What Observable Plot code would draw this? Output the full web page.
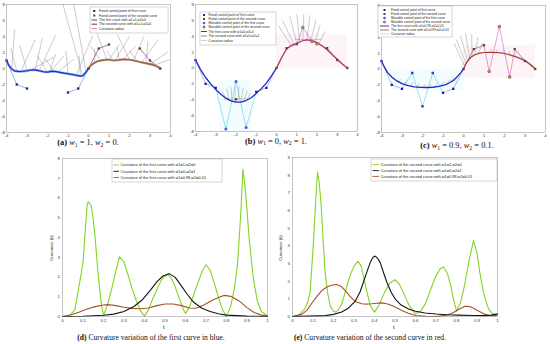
<!DOCTYPE html>
<html><head><meta charset="utf-8">
<script src="https://cdn.jsdelivr.net/npm/d3@7"></script>
<script src="https://cdn.jsdelivr.net/npm/@observablehq/plot@0.6"></script>
<style>
html,body{margin:0;padding:0;background:#fff;}
#wrap{position:relative;width:550px;height:344px;overflow:hidden;background:#fff;}
#wrap svg{position:absolute;left:0;top:0;}
</style></head><body><div id="wrap"></div>
<script>
// ---------- tick labels ----------
const xTicksTop = [-4,-3,-2,-1,0,1,2,3,4];
const yTicksTop = [-8,-6,-4,-2,0,2,4,6,8];
const tTicks = [0,0.1,0.2,0.3,0.4,0.5,0.6,0.7,0.8,0.9,1];
const kTicksD = [0,1,2,3,4,5,6,7,8];
const kTicksE = [0,1,2,3,4,5,6,7,8,9];

// ---------- control points ----------
const fixedFirst = [[-4,1],[-3.5,-2],[-3,-2.5],[-1,-3],[-0.5,-2.5]];
const fixedSecond = [[0,0],[0.5,2.5],[1,3],[2.5,2.5],[3,1],[3.5,0]];
const movFirstB = [[-2.5,-7.7],[-2,-1.7],[-1.5,-7.5]];
const movSecondB = [[1.3,5.1],[1.75,3.35],[2.0,3.05]];
const extraB = [[-2,-3.95]];
const movFirstC = [[-2.5,-0.5],[-2,-4.7],[-1.5,-0.5]];
const movSecondC = [[1.25,-0.3],[1.75,5.35],[2.25,-1.0]];

// ---------- curves ----------
const curveA1 = [[-4,1],[-3.88,0.35],[-3.75,-0.05],[-3.6,-0.3],[-3.4,-0.38],[-3.2,-0.35],[-3.0,-0.28],[-2.8,-0.18],[-2.6,-0.17],[-2.4,-0.28],[-2.2,-0.4],[-2.0,-0.45],[-1.8,-0.35],[-1.6,-0.38],[-1.4,-0.48],[-1.2,-0.58],[-1.0,-0.66],[-0.8,-0.75],[-0.6,-0.85],[-0.4,-0.95],[-0.28,-0.9],[-0.18,-0.65],[-0.08,-0.3],[0,0]];
const curveA2 = [[0,0],[0.1,0.35],[0.25,0.65],[0.45,0.9],[0.7,1.05],[0.95,1.12],[1.2,1.0],[1.45,1.05],[1.7,1.15],[1.95,1.12],[2.2,1.0],[2.45,0.85],[2.7,0.7],[2.95,0.58],[3.2,0.42],[3.38,0.22],[3.5,0]];
const curveB1 = [[-4,1],[-3.75,-0.2],[-3.5,-1.2],[-3.25,-2.0],[-3,-2.7],[-2.75,-3.3],[-2.5,-3.8],[-2.25,-4.15],[-2,-4.3],[-1.75,-4.3],[-1.5,-4.1],[-1.25,-3.75],[-1,-3.2],[-0.75,-2.6],[-0.5,-1.9],[-0.25,-1.0],[0,0]];
const curveB2 = [[0,0],[0.25,1.3],[0.5,2.4],[0.75,2.9],[1,3.1],[1.25,3.4],[1.5,3.55],[1.75,3.45],[2,3.2],[2.25,2.8],[2.5,2.3],[2.75,1.7],[3,1.1],[3.25,0.5],[3.5,0]];
const curveC1 = [[-4,1],[-3.85,0.2],[-3.7,-0.45],[-3.5,-1.0],[-3.25,-1.5],[-3.0,-1.85],[-2.7,-2.1],[-2.4,-2.25],[-2.1,-2.32],[-1.8,-2.33],[-1.5,-2.3],[-1.2,-2.2],[-0.9,-2.0],[-0.65,-1.7],[-0.45,-1.35],[-0.28,-0.9],[-0.13,-0.45],[0,0]];
const curveC2 = [[0,0],[0.1,0.6],[0.2,1.0],[0.35,1.45],[0.55,1.8],[0.8,2.0],[1.0,2.08],[1.3,2.1],[1.7,2.07],[2.0,1.95],[2.3,1.75],[2.6,1.5],[2.9,1.18],[3.1,0.9],[3.3,0.5],[3.5,0]];

// ---------- curvature radius segments [x1,y1,x2,y2] ----------
const combA = [[-3.75,-0.05,-3.6,4.9],[-3.5,-0.35,-3.8,2.6],[-3.3,-0.36,-2.6,3.6],[-3.0,-0.28,-3.35,2.9],[-2.8,-0.18,-1.7,1.4],[-2.6,-0.17,-2.25,3.8],[-2.4,-0.28,-1.6,4.2],[-2.0,-0.45,-2.5,1.6],[-1.9,-0.4,-1.6,1.8],[-1.85,-0.36,-1.2,1.6],[-1.7,-0.36,-2.1,1.2],[-1.5,-0.43,-0.7,1.2],[-1.0,-0.66,-1.1,2.2],[-0.4,-0.95,-0.45,1.6],[-0.28,-0.9,-1.3,8.5],[-0.12,-0.45,-0.75,8.5],[-0.6,-0.85,0.2,4.1],[0.3,0.75,0.3,2.5],[0.6,1.0,0.1,2.8],[0.9,1.12,0.4,4.5],[1.0,1.1,1.5,3.0],[1.2,1.0,0.9,2.2],[1.3,1.02,2.0,4.0],[1.5,1.06,1.4,2.6],[1.7,1.15,2.3,2.8],[2.0,1.1,1.4,4.3],[2.2,1.0,2.7,4.0],[2.4,0.88,2.0,2.2],[2.6,0.75,3.4,3.6],[2.8,0.66,2.9,3.4],[3.0,0.55,3.9,2.1],[3.2,0.42,3.95,1.1]];
const combB = [[-2.5,-3.8,-2.7,-2.9],[-2.35,-4.05,-2.45,-2.6],[-2.2,-4.2,-2.25,-2.4],[-2.05,-4.28,-2.05,-2.3],[-1.9,-4.3,-1.85,-2.35],[-1.75,-4.3,-1.65,-2.5],[-1.6,-4.2,-1.45,-2.8],[-1.45,-4.05,-1.3,-3.2],[-2.6,-3.9,-1.4,-3.9],[0.7,2.95,0.1,5.3],[0.85,3.05,0.3,6.0],[1.0,3.1,0.65,6.6],[1.15,3.3,1.0,6.8],[1.3,3.45,1.35,6.8],[1.5,3.55,1.65,6.6],[1.7,3.5,1.95,6.1],[1.9,3.3,2.15,5.4],[2.1,3.1,2.4,4.6],[0.9,3.6,2.2,3.6]];
const combC = [[0.05,0.4,-0.45,3.2],[0.12,0.75,-0.35,3.7],[0.2,1.05,-0.15,4.2],[0.3,1.35,0.1,4.5],[0.42,1.6,0.4,4.4],[0.55,1.75,0.7,4.0],[0.7,1.9,0.95,3.3],[-3.2,-1.75,-3.05,-1.3],[-2.9,-2.0,-2.75,-1.45],[-2.6,-2.2,-2.45,-1.65],[-2.3,-2.3,-2.15,-1.8],[-2.0,-2.32,-1.85,-1.9],[-1.7,-2.3,-1.55,-1.9],[-1.4,-2.25,-1.25,-1.8],[-1.1,-2.1,-0.95,-1.6],[-0.8,-1.9,-0.65,-1.35],[-0.6,-1.6,-0.45,-1.0],[1.3,2.1,1.35,2.5],[1.6,2.07,1.65,2.5],[1.9,2.0,1.95,2.45],[2.2,1.8,2.25,2.3],[2.5,1.55,2.55,2.1]];

// faint coloured regions seen in the picture [x1,x2,y1,y2]
const cyanB = [[-2.8,-1.2,-8,-1.5]];
const pinkB = [[0,3.5,0,4.2]];
const cyanC = [[-3.5,0,-2.7,0]];
const pinkC = [[0,3.5,-1.2,3]];

// ---------- curvature data [t,k] ----------
const greenD = [[0,0],[0.02,0.03],[0.04,0.1],[0.06,0.35],[0.07,0.9],[0.08,1.5],[0.1,2.7],[0.11,4.2],[0.12,5.6],[0.125,5.82],[0.14,5.62],[0.15,4.9],[0.16,3.9],[0.17,2.6],[0.18,1.5],[0.19,0.6],[0.2,0.05],[0.22,0.6],[0.24,1.4],[0.26,2.3],[0.278,3.02],[0.3,2.76],[0.32,2.1],[0.34,1.4],[0.36,0.8],[0.38,0.3],[0.4,0.02],[0.42,0.35],[0.44,0.9],[0.46,1.35],[0.48,1.8],[0.5,2.05],[0.515,2.12],[0.53,1.95],[0.55,1.5],[0.57,0.9],[0.59,0.35],[0.6,0.15],[0.62,0.5],[0.64,1.1],[0.66,1.7],[0.68,2.25],[0.70,2.62],[0.72,2.35],[0.74,1.7],[0.76,1.0],[0.78,0.35],[0.8,0.02],[0.82,0.5],[0.84,1.5],[0.855,2.8],[0.87,5.3],[0.88,7.45],[0.89,6.6],[0.9,5.4],[0.91,4.0],[0.93,2.0],[0.95,0.8],[0.97,0.25],[1.0,0.03]];
const blackD = [[0,0],[0.1,0.01],[0.2,0.06],[0.25,0.12],[0.3,0.25],[0.35,0.52],[0.39,0.85],[0.43,1.35],[0.46,1.75],[0.49,2.05],[0.52,2.17],[0.55,1.98],[0.58,1.55],[0.61,1.1],[0.64,0.72],[0.68,0.42],[0.72,0.25],[0.76,0.14],[0.8,0.07],[0.9,0.02],[1,0]];
const brownD = [[0,0],[0.04,0.08],[0.08,0.22],[0.12,0.38],[0.16,0.5],[0.2,0.58],[0.22,0.6],[0.26,0.55],[0.3,0.47],[0.34,0.41],[0.38,0.39],[0.42,0.43],[0.46,0.55],[0.5,0.63],[0.54,0.63],[0.58,0.55],[0.62,0.43],[0.65,0.42],[0.69,0.58],[0.73,0.82],[0.77,1.0],[0.79,1.07],[0.82,1.02],[0.86,0.8],[0.9,0.45],[0.935,0.2],[0.97,0.07],[1,0.03]];
const greenE = [[0,0],[0.03,0.08],[0.06,0.43],[0.075,0.85],[0.086,1.38],[0.1,3.8],[0.112,6.3],[0.122,8.17],[0.13,7.6],[0.14,6.3],[0.15,4.2],[0.16,2.4],[0.172,1.3],[0.184,0.6],[0.2,0.3],[0.21,0.25],[0.225,0.4],[0.24,0.7],[0.26,1.5],[0.28,2.3],[0.3,2.85],[0.32,3.13],[0.335,2.85],[0.346,2.3],[0.365,1.3],[0.38,0.6],[0.4,0.25],[0.42,0.6],[0.45,1.38],[0.475,1.9],[0.5,2.08],[0.52,1.85],[0.54,1.38],[0.57,0.6],[0.6,0.15],[0.625,0.3],[0.647,0.7],[0.67,1.4],[0.696,2.2],[0.72,2.7],[0.737,2.8],[0.755,2.45],[0.77,1.85],[0.785,1.0],[0.8,0.3],[0.82,0.8],[0.84,1.8],[0.86,3.1],[0.883,4.3],[0.9,3.6],[0.915,2.4],[0.935,1.2],[0.956,0.45],[0.975,0.15],[1,0.05]];
const blackE = [[0,0],[0.08,0.02],[0.16,0.05],[0.2,0.12],[0.24,0.25],[0.27,0.45],[0.305,0.85],[0.33,1.4],[0.346,1.95],[0.365,2.6],[0.38,3.08],[0.393,3.35],[0.403,3.42],[0.415,3.3],[0.428,3.05],[0.445,2.45],[0.46,1.95],[0.48,1.4],[0.5,1.0],[0.53,0.65],[0.566,0.43],[0.6,0.3],[0.647,0.2],[0.7,0.14],[0.75,0.1],[0.81,0.08],[0.88,0.06],[0.94,0.05],[0.97,0.08],[1,0.15]];
const brownE = [[0,0],[0.045,0.12],[0.07,0.35],[0.094,0.75],[0.12,1.15],[0.143,1.47],[0.17,1.68],[0.195,1.78],[0.216,1.81],[0.24,1.68],[0.257,1.47],[0.28,1.15],[0.305,0.85],[0.338,0.72],[0.36,0.7],[0.387,0.72],[0.41,0.75],[0.436,0.77],[0.46,0.72],[0.485,0.62],[0.51,0.48],[0.533,0.34],[0.565,0.18],[0.6,0.06],[0.65,0.01],[0.7,0],[0.74,0.05],[0.777,0.17],[0.81,0.4],[0.842,0.58],[0.865,0.56],[0.883,0.47],[0.905,0.32],[0.932,0.15],[0.96,0.06],[0.99,0.05],[1,0.1]];

// ---------- legend labels ----------
const legA = ["Fixed control point of  first curve","Fixed control point of the second curve","The first curve with w1=1,w2=0","The second curve with w1=1,w2=0","Curvature radius"];
const legB = ["Fixed control point of  first curve","Fixed control point of the second curve","Movable control point of the first curve","Movable control point of the second curve","The first curve with w1=0,w2=1","The second curve with w1=0,w2=1","Curvature radius"];
const legC = ["Fixed control point of  first curve","Fixed control point of the second curve","Movable control point of the first curve","Movable control point of the second curve","The first curve with w1=0.99,w2=0.01","The second curve with w1=0.99,w2=0.01","Curvature radius"];
const legD = ["Curvature of the first curve with  w1=1,w2=0","Curvature of the first curve with  w1=0,w2=1","Curvature of the first curve with  w1=0.99,w2=0.01"];
const legE = ["Curvature of the second curve with w1=1,w2=0","Curvature of the second curve with  w1=0,w2=1","Curvature of the second curve with  w1=0.99,w2=0.01"];

// ---------- colours ----------
const C = {
  blue:"#2326c4", blueLight:"#7aa6ea", fixed1:"#1c1c9c", fixed2:"#6b4226",
  mov1:"#5a55e0", mov2:"#b08a6a", poly1:"#6ea6e6", poly1d:"#3cc4e4",
  poly2:"#9448c6", poly2d:"#d844b8", comb:"#8a8a8a",
  a2:"#8b6a3c", b2:"#bd2f6a", c2:"#a3402a",
  green:"#84d424", black:"#141414", brown:"#a8522c"
};

const wrap = document.getElementById("wrap");
const baseStyle = "background:transparent;overflow:visible;font-size:4.4px;font-family:'Liberation Sans',Arial,sans-serif;color:#3a3a3a;position:absolute;left:0;top:0;";
const X = d => d[0], Y = d => d[1];
const fmt = d => String(+d.toFixed(1));

function topPanel(m, marks) {
  const p = Plot.plot({
    width: 550, height: 344, style: baseStyle,
    marginLeft: m[0], marginRight: m[1], marginTop: m[2], marginBottom: m[3],
    x: {domain: [-4,4], ticks: xTicksTop, tickSize: 0, tickPadding: 1.2, tickFormat: fmt, label: null},
    y: {domain: [-8,8], ticks: yTicksTop, tickSize: 0, tickPadding: 1.5, tickFormat: fmt, label: null},
    marks: [...marks, Plot.frame({stroke: "#8c8c8c", strokeWidth: 0.5})]
  });
  wrap.append(p);
}
const pts = (arr, color, sym, r, stroke) => Plot.dot(arr, {x: X, y: Y, symbol: sym, r, fill: color, stroke: stroke || "none", strokeWidth: 0.4});
const ln = (arr, color, w, dash) => Plot.line(arr, {x: X, y: Y, stroke: color, strokeWidth: w, strokeDasharray: dash || null, clip: true});
const combs = arr => Plot.link(arr, {x1: d=>d[0], y1: d=>d[1], x2: d=>d[2], y2: d=>d[3], stroke: C.comb, strokeWidth: 0.45, clip: true});
const shade = (arr, color) => Plot.rect(arr, {x1: d=>d[0], x2: d=>d[1], y1: d=>d[2], y2: d=>d[3], fill: color, fillOpacity: 0.22});

// (a)
topPanel([6,380,4,212], [
  combs(combA),
  ln(fixedFirst.slice(0,3), C.poly1, 0.8),
  ln([...fixedFirst.slice(3), fixedSecond[0]], C.poly1, 0.8),
  ln(fixedSecond.slice(0,3), C.poly2, 0.8),
  ln(fixedSecond.slice(3), C.poly2, 0.8),
  ln(curveA1, C.blueLight, 2.4), ln(curveA1, C.blue, 1.1),
  ln(curveA2, "#c98a8a", 2.2), ln(curveA2, C.a2, 1.1),
  pts(fixedFirst, C.fixed1, "square", 1.3), pts(fixedSecond, C.fixed2, "square", 1.3)
]);
// (b)
topPanel([195,193,4,213], [
  shade(cyanB, "#c8f4fa"), shade(pinkB, "#f8cfe0"),
  combs(combB),
  ln(fixedFirst.slice(0,3), C.poly1, 0.7),
  ln([fixedFirst[2], ...movFirstB, fixedFirst[3]], C.poly1d, 0.6, "1.2,1"),
  ln([...fixedFirst.slice(3), fixedSecond[0]], C.poly1, 0.7),
  ln(fixedSecond.slice(0,3), C.poly2, 0.7),
  ln([fixedSecond[2], ...movSecondB, fixedSecond[3]], C.poly2d, 0.6, "1.2,1"),
  ln(fixedSecond.slice(3), C.poly2, 0.7),
  ln(curveB1, C.blue, 1.3), ln(curveB2, C.b2, 1.2),
  pts(fixedFirst, C.fixed1, "square", 1.3), pts(fixedSecond, C.fixed2, "square", 1.3),
  pts(movFirstB, C.mov1, "circle", 1.5), pts(movSecondB, C.mov2, "circle", 1.5, "#6b4a30"),
  pts(extraB, "#4a5a30", "circle", 1.3)
]);
// (c)
topPanel([381,5,5,212], [
  shade(cyanC, "#c8f4fa"), shade(pinkC, "#f8cfe0"),
  combs(combC),
  ln(fixedFirst.slice(0,3), C.poly1, 0.7),
  ln([fixedFirst[2], ...movFirstC, fixedFirst[3]], C.poly1d, 0.6, "1.2,1"),
  ln([...fixedFirst.slice(3), fixedSecond[0]], C.poly1, 0.7),
  ln(fixedSecond.slice(0,3), C.poly2, 0.7),
  ln([fixedSecond[2], ...movSecondC, fixedSecond[3]], C.poly2d, 0.6, "1.2,1"),
  ln(fixedSecond.slice(3), C.poly2, 0.7),
  ln(curveC1, C.blue, 1.3), ln(curveC2, C.c2, 1.2),
  pts(fixedFirst, C.fixed1, "square", 1.3), pts(fixedSecond, C.fixed2, "square", 1.3),
  pts(movFirstC, "#3838dc", "square", 1.4), pts(movSecondC, C.mov2, "circle", 1.5, "#6b4a30")
]);

function curvPanel(m, kTicks, series) {
  const p = Plot.plot({
    width: 550, height: 344, style: baseStyle,
    marginLeft: m[0], marginRight: m[1], marginTop: m[2], marginBottom: m[3],
    x: {domain: [0,1], ticks: tTicks, tickSize: 0, tickPadding: 2.5, tickFormat: fmt, label: null},
    y: {domain: [0, kTicks[kTicks.length-1]], ticks: kTicks, tickSize: 0, tickPadding: 2.5, tickFormat: fmt, label: null},
    marks: [
      ...series.map(([arr, c]) => Plot.line(arr, {x: X, y: Y, stroke: c, strokeWidth: 1.1})),
      Plot.frame({stroke: "#8c8c8c", strokeWidth: 0.5})
    ]
  });
  wrap.append(p);
}
curvPanel([62,283,158,28], kTicksD, [[greenD, C.green],[brownD, C.brown],[blackD, C.black]]);
curvPanel([292,53,157,28], kTicksE, [[greenE, C.green],[brownE, C.brown],[blackE, C.black]]);

// ---------- overlay: legends, axis titles, captions ----------
const svg = d3.create("svg").attr("width", 550).attr("height", 344)
  .style("font-family", "'Liberation Sans',Arial,sans-serif");
wrap.append(svg.node());

function legend(box, rows, labels, fs, sx, tx) {
  const g = svg.append("g");
  g.append("rect").attr("x", box[0]).attr("y", box[1]).attr("width", box[2]).attr("height", box[3])
    .attr("fill", "#fff").attr("stroke", "#9a9a9a").attr("stroke-width", 0.4);
  rows.forEach((r, i) => {
    const y = r.y;
    if (r.kind === "line") {
      g.append("line").attr("x1", sx[0]).attr("x2", sx[1]).attr("y1", y).attr("y2", y)
        .attr("stroke", r.color).attr("stroke-width", r.w || 0.9);
    } else if (r.kind === "sq") {
      const cx = (sx[0] + sx[1]) / 2;
      g.append("rect").attr("x", cx - 1).attr("y", y - 1).attr("width", 2).attr("height", 2).attr("fill", r.color);
    } else {
      const cx = (sx[0] + sx[1]) / 2;
      g.append("circle").attr("cx", cx).attr("cy", y).attr("r", 1.3).attr("fill", r.color)
        .attr("stroke", r.stroke || "none").attr("stroke-width", 0.3);
    }
    g.append("text").attr("x", tx).attr("y", y).attr("dy", "0.35em").attr("font-size", fs)
      .attr("fill", "#222").text(labels[i]);
  });
}
legend([90,7,78,26], [
  {y:11, kind:"sq", color:C.fixed1}, {y:15.5, kind:"sq", color:C.fixed2},
  {y:20, kind:"line", color:C.blue}, {y:24.2, kind:"line", color:C.a2, w:1.3},
  {y:28.6, kind:"line", color:"#f08ad8", w:1.2}], legA, 3.4, [91.5,97], 99);
legend([200,12,76,33], [
  {y:15, kind:"sq", color:C.fixed1}, {y:19, kind:"sq", color:C.fixed2},
  {y:23, kind:"dot", color:C.mov1}, {y:27, kind:"dot", color:C.mov2, stroke:"#6b4a30"},
  {y:31.5, kind:"line", color:C.blue}, {y:36, kind:"line", color:"#c8a080", w:1.3},
  {y:40.5, kind:"line", color:"#b0b0b0", w:0.6}], legB, 3.3, [201,207], 208.5);
legend([378,6,74,31], [
  {y:10, kind:"sq", color:C.fixed1}, {y:14, kind:"sq", color:C.fixed2},
  {y:18, kind:"dot", color:C.mov1}, {y:22, kind:"dot", color:C.mov2, stroke:"#6b4a30"},
  {y:26, kind:"line", color:C.blue}, {y:30, kind:"line", color:"#c8907a", w:1.3},
  {y:33.8, kind:"line", color:"#f0a0d8", w:0.7}], legC, 3.2, [380,389], 391);
legend([112,159,110,23], [
  {y:165, kind:"line", color:C.green}, {y:171.3, kind:"line", color:C.black},
  {y:177.5, kind:"line", color:C.brown}], legD, 3.9, [113.5,119], 120.5);
legend([371,159,126,22], [
  {y:164.6, kind:"line", color:C.green}, {y:170.6, kind:"line", color:C.black},
  {y:176.4, kind:"line", color:C.brown}], legE, 3.9, [372.5,379], 380.5);

// axis titles
[[53,248],[282,248]].forEach(([x,y]) => {
  svg.append("text").attr("transform", `translate(${x},${y}) rotate(-90)`).attr("text-anchor","middle")
    .attr("font-size", 4.4).attr("fill", "#333").text("Curvature (k)");
});
[[164,329],[394,329]].forEach(([x,y]) => {
  svg.append("text").attr("x", x).attr("y", y).attr("text-anchor","middle").attr("font-family","'Liberation Serif',serif")
    .attr("font-size", 6.5).attr("fill", "#222").text("t");
});

// captions
function caption(x, y, parts, fs) {
  const t = svg.append("text").attr("x", x).attr("y", y).attr("text-anchor", "middle")
    .attr("font-family", "'Liberation Serif','DejaVu Serif',serif").attr("font-size", fs).attr("fill", "#111");
  let shifted = false;
  parts.forEach(([s, k]) => {
    const ts = t.append("tspan").text(s);
    if (k === "b") ts.attr("font-weight", "bold");
    if (k === "i") ts.attr("font-style", "italic");
    if (k === "s") { ts.attr("font-size", fs * 0.7).attr("dy", fs * 0.22); shifted = true; }
    else if (shifted) { ts.attr("dy", -fs * 0.22); shifted = false; }
  });
}
const capA = [["(a)","b"],[" ",""],["w","i"],["1","s"],[" = 1, ",""],["w","i"],["2","s"],[" = 0.",""]];
const capB = [["(b)","b"],[" ",""],["w","i"],["1","s"],[" = 0, ",""],["w","i"],["2","s"],[" = 1.",""]];
const capC = [["(c)","b"],[" ",""],["w","i"],["1","s"],[" = 0.9, ",""],["w","i"],["2","s"],[" = 0.1.",""]];
const capD = [["(d)","b"],[" Curvature variation of the first curve in blue.",""]];
const capE = [["(e)","b"],[" Curvature variation of the second curve in red.",""]];
caption(88, 145, capA, 8.4);
caption(276, 143.5, capB, 8.4);
caption(457, 148, capC, 8.4);
caption(151, 340, capD, 7.6);
caption(370, 340, capE, 7.6);
</script></body></html>
